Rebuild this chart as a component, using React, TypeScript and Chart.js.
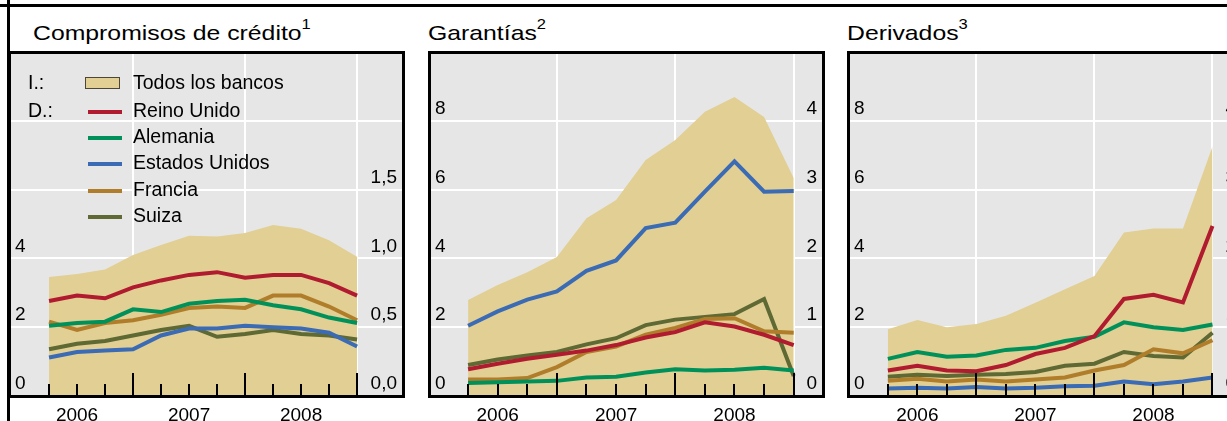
import React, { useEffect, useRef } from 'react';
import { Chart, registerables } from 'chart.js';

Chart.register(...registerables);

const FONT = '"Liberation Sans", Arial, Helvetica, sans-serif';

// ---------- categories & tick labels ----------
const quarters = ['2006T1', '2006T2', '2006T3', '2006T4', '2007T1', '2007T2', '2007T3', '2007T4', '2008T1', '2008T2', '2008T3', '2008T4'];
const yearLabels = ['2006', '2007', '2008'];
const yearLabelAt = [1, 5, 9];
const yearEndAt = [3, 7, 11];

const totalName = 'Todos los bancos';
const seriesNames = ['Reino Unido', 'Alemania', 'Estados Unidos', 'Francia', 'Suiza'];

// ---------- Compromisos de crédito (I.: total, D.: countries) ----------
const creditTotal = [3.46, 3.55, 3.68, 4.1, 4.39, 4.66, 4.64, 4.74, 4.97, 4.86, 4.53, 4.05];
const creditUK = [0.69, 0.73, 0.71, 0.79, 0.84, 0.88, 0.9, 0.86, 0.88, 0.88, 0.82, 0.73];
const creditDE = [0.51, 0.53, 0.54, 0.63, 0.61, 0.67, 0.69, 0.7, 0.66, 0.63, 0.57, 0.53];
const creditUS = [0.28, 0.32, 0.33, 0.34, 0.44, 0.49, 0.49, 0.51, 0.5, 0.49, 0.46, 0.36];
const creditFR = [0.54, 0.48, 0.53, 0.55, 0.59, 0.64, 0.65, 0.64, 0.73, 0.73, 0.65, 0.55];
const creditCH = [0.34, 0.38, 0.4, 0.44, 0.48, 0.51, 0.43, 0.45, 0.48, 0.45, 0.44, 0.41];

// ---------- Garantías ----------
const guarTotal = [2.79, 3.23, 3.6, 4.04, 5.17, 5.7, 6.86, 7.44, 8.26, 8.69, 8.11, 6.34];
const guarUK = [0.39, 0.47, 0.54, 0.6, 0.66, 0.74, 0.85, 0.93, 1.07, 1.01, 0.89, 0.74];
const guarDE = [0.19, 0.2, 0.21, 0.22, 0.27, 0.28, 0.34, 0.39, 0.37, 0.38, 0.41, 0.37];
const guarUS = [1.02, 1.23, 1.4, 1.52, 1.82, 1.97, 2.44, 2.52, 2.97, 3.41, 2.97, 2.98];
const guarFR = [0.24, 0.24, 0.26, 0.42, 0.64, 0.72, 0.89, 0.99, 1.12, 1.13, 0.94, 0.92];
const guarCH = [0.45, 0.53, 0.59, 0.64, 0.75, 0.84, 1.03, 1.11, 1.15, 1.19, 1.41, 0.29];

// ---------- Derivados ----------
const derivTotal = [1.94, 2.21, 2.0, 2.09, 2.33, 2.71, 3.1, 3.49, 4.75, 4.87, 4.87, 7.25];
const derivUK = [0.37, 0.44, 0.37, 0.36, 0.45, 0.61, 0.7, 0.87, 1.41, 1.47, 1.36, 2.47];
const derivDE = [0.54, 0.64, 0.57, 0.59, 0.67, 0.7, 0.8, 0.86, 1.07, 1.0, 0.96, 1.04];
const derivUS = [0.11, 0.12, 0.11, 0.13, 0.11, 0.12, 0.14, 0.15, 0.21, 0.17, 0.21, 0.27];
const derivFR = [0.22, 0.25, 0.21, 0.24, 0.21, 0.24, 0.27, 0.37, 0.45, 0.68, 0.62, 0.81];
const derivCH = [0.28, 0.31, 0.29, 0.31, 0.32, 0.35, 0.44, 0.47, 0.64, 0.58, 0.56, 0.92];

// axis tick labels
const leftTicksCredit = [0, 2, 4];
const rightTicksCredit = [0, 0.5, 1, 1.5];
const leftTicksOther = [0, 2, 4, 6, 8];
const rightTicksOther = [0, 1, 2, 3, 4];

// ---------- styles ----------
const COLORS = ['#B11B2F', '#00915A', '#3A6BB4', '#B07D2B', '#5E6934'];
const AREA = '#E2CF94';
const BG = '#E6E6E6';

const PLOT_W = 394;
const PLOT_H = 344;
const PLOT_TOP = 52;
const PAD = 3;
const XAXIS_H = 32;
const CW = PLOT_W + 2 * PAD;
const CH = PAD + PLOT_H + XAXIS_H;

type PanelCfg = {
  title: string;
  note: string;
  titleLeft: number;
  plotLeft: number;
  xMin: number;
  xMax: number;
  rightMax: number;
  rightStep: number;
  leftShow: number[];
  rightShow: number[];
  rightFmt: (v: number) => string;
  total: number[];
  lines: number[][];
};

const PANELS: PanelCfg[] = [
  {
    title: 'Compromisos de crédito', note: '1', titleLeft: 33, plotLeft: 9,
    xMin: -1.43, xMax: 12.64, rightMax: 2.5, rightStep: 0.5,
    leftShow: leftTicksCredit, rightShow: rightTicksCredit,
    rightFmt: (v) => v.toFixed(1).replace('.', ','),
    total: creditTotal, lines: [creditUK, creditDE, creditUS, creditFR, creditCH],
  },
  {
    title: 'Garantías', note: '2', titleLeft: 428, plotLeft: 429,
    xMin: -1.32, xMax: 11.99, rightMax: 5, rightStep: 1,
    leftShow: leftTicksOther, rightShow: rightTicksOther,
    rightFmt: (v) => String(v),
    total: guarTotal, lines: [guarUK, guarDE, guarUS, guarFR, guarCH],
  },
  {
    title: 'Derivados', note: '3', titleLeft: 847, plotLeft: 848,
    xMin: -1.35, xMax: 12.0, rightMax: 5, rightStep: 1,
    leftShow: leftTicksOther, rightShow: rightTicksOther,
    rightFmt: (v) => String(v),
    total: derivTotal, lines: [derivUK, derivDE, derivUS, derivFR, derivCH],
  },
];

const decoPlugin = {
  id: 'deco',
  beforeDraw(chart: any) {
    const { ctx, chartArea: a } = chart;
    ctx.save();
    ctx.fillStyle = BG;
    ctx.fillRect(a.left, a.top, a.right - a.left, a.bottom - a.top);
    ctx.restore();
  },
  afterDatasetsDraw(chart: any) {
    const { ctx, chartArea: a } = chart;
    const xs = chart.scales.x;
    ctx.save();
    ctx.strokeStyle = '#000';
    ctx.lineWidth = 2;
    quarters.forEach((_, i) => {
      const px = Math.round(xs.getPixelForValue(i));
      const len = yearEndAt.includes(i) ? 23 : 12;
      ctx.beginPath();
      ctx.moveTo(px, a.bottom);
      ctx.lineTo(px, a.bottom - len);
      ctx.stroke();
    });
    ctx.restore();
  },
  afterDraw(chart: any) {
    const { ctx, chartArea: a } = chart;
    ctx.save();
    ctx.strokeStyle = '#000';
    ctx.lineWidth = 3;
    ctx.strokeRect(Math.round(a.left) + 0.5, Math.round(a.top) + 0.5, Math.round(a.right - a.left), Math.round(a.bottom - a.top));
    ctx.restore();
  },
};

const tickFont = { family: FONT, size: 19 };

function Panel({ cfg }: { cfg: PanelCfg }) {
  const ref = useRef<HTMLCanvasElement | null>(null);
  useEffect(() => {
    const pts = (arr: number[]) => arr.map((v, i) => ({ x: i, y: v }));
    const chart = new Chart(ref.current as HTMLCanvasElement, {
      type: 'line',
      data: {
        datasets: [
          ...cfg.lines.map((vals, k) => ({
            label: seriesNames[k],
            data: pts(vals),
            borderColor: COLORS[k],
            backgroundColor: COLORS[k],
            borderWidth: 4,
            pointRadius: 0,
            fill: false,
            tension: 0,
            yAxisID: 'yR',
          })),
          {
            label: totalName,
            data: pts(cfg.total),
            borderColor: 'rgba(0,0,0,0)',
            borderWidth: 0,
            backgroundColor: AREA,
            fill: 'origin',
            pointRadius: 0,
            tension: 0,
            yAxisID: 'yL',
          },
        ],
      } as any,
      options: {
        animation: false,
        responsive: false,
        devicePixelRatio: 1,
        events: [],
        layout: { padding: { left: PAD, right: PAD, top: PAD, bottom: 0 } },
        plugins: { legend: { display: false }, tooltip: { enabled: false } },
        scales: {
          x: {
            type: 'linear',
            position: 'bottom',
            min: cfg.xMin,
            max: cfg.xMax,
            afterBuildTicks: (s: any) => {
              s.ticks = [1, 3, 5, 7, 9, 11].map((v) => ({ value: v }));
            },
            afterFit: (s: any) => {
              s.paddingLeft = 0;
              s.paddingRight = 0;
              s.height = XAXIS_H;
            },
            border: { display: false },
            grid: {
              drawTicks: false,
              lineWidth: 2,
              color: (c: any) => (c.tick && yearEndAt.includes(c.tick.value) ? '#FFFFFF' : 'rgba(0,0,0,0)'),
            },
            ticks: {
              autoSkip: false,
              maxRotation: 0,
              padding: 8,
              color: '#000',
              font: tickFont,
              callback: (v: any) => {
                const k = yearLabelAt.indexOf(Number(v));
                return k >= 0 ? yearLabels[k] : '';
              },
            },
          },
          yL: {
            type: 'linear',
            position: 'left',
            min: 0,
            max: 10,
            afterFit: (s: any) => {
              s.width = 0;
              s.paddingTop = 0;
              s.paddingBottom = 0;
            },
            border: { display: false },
            grid: { drawTicks: false, color: '#FFFFFF', lineWidth: 2 },
            ticks: {
              stepSize: 2,
              mirror: true,
              padding: 6,
              labelOffset: -12,
              color: '#000',
              font: tickFont,
              callback: (v: any) => (cfg.leftShow.includes(Number(v)) ? String(v) : ''),
            },
          },
          yR: {
            type: 'linear',
            position: 'right',
            min: 0,
            max: cfg.rightMax,
            afterFit: (s: any) => {
              s.width = 0;
              s.paddingTop = 0;
              s.paddingBottom = 0;
            },
            border: { display: false },
            grid: { display: false, drawTicks: false },
            ticks: {
              stepSize: cfg.rightStep,
              mirror: true,
              padding: -6,
              labelOffset: -12,
              color: '#000',
              font: tickFont,
              callback: (v: any) => (cfg.rightShow.includes(Number(v)) ? cfg.rightFmt(Number(v)) : ''),
            },
          },
        },
      } as any,
      plugins: [decoPlugin],
    });
    return () => chart.destroy();
  }, []);
  return (
    <canvas
      ref={ref}
      width={CW}
      height={CH}
      style={{ position: 'absolute', left: cfg.plotLeft - PAD, top: PLOT_TOP - PAD, width: CW, height: CH }}
    />
  );
}

function Txt({ x, baseline, size, children, style }: any) {
  return (
    <div
      style={{
        position: 'absolute',
        left: x,
        top: baseline - 0.8465 * size,
        fontSize: size,
        lineHeight: `${size}px`,
        fontFamily: FONT,
        whiteSpace: 'nowrap',
        color: '#000',
        ...style,
      }}
    >
      {children}
    </div>
  );
}

function Legend() {
  const baselines = [89.5, 117.5, 144, 170, 196.5, 222.7];
  const fs = 19.5;
  return (
    <>
      <Txt x={28} baseline={baselines[0]} size={fs}>I.:</Txt>
      <Txt x={28} baseline={baselines[1]} size={fs}>D.:</Txt>
      <div
        style={{
          position: 'absolute', left: 85, top: 77, width: 35, height: 12, boxSizing: 'border-box',
          background: AREA, border: '1px solid #4d4636',
        }}
      />
      <Txt x={133} baseline={baselines[0]} size={fs}>{totalName}</Txt>
      {seriesNames.map((n, k) => (
        <React.Fragment key={n}>
          <div
            style={{
              position: 'absolute', left: 88, top: baselines[k + 1] - 8, width: 34, height: 4, background: COLORS[k],
            }}
          />
          <Txt x={133} baseline={baselines[k + 1]} size={fs}>{n}</Txt>
        </React.Fragment>
      ))}
    </>
  );
}

export default function App() {
  return (
    <div
      style={{
        position: 'absolute', left: 0, top: 0, width: 1227, height: 421, overflow: 'hidden',
        background: '#fff', fontFamily: FONT,
      }}
    >
      {PANELS.map((p) => (
        <Panel key={p.title} cfg={p} />
      ))}
      {PANELS.map((p) => (
        <Txt key={'t' + p.title} x={p.titleLeft} baseline={39.5} size={21} style={{ transform: 'scaleX(1.18)', transformOrigin: 'left' }}>
          {p.title}
          <span style={{ fontSize: 14, position: 'relative', top: -11 }}>{p.note}</span>
        </Txt>
      ))}
      <Legend />
      <div style={{ position: 'absolute', left: 0, top: 4, width: 1227, height: 3, background: '#000' }} />
      <div style={{ position: 'absolute', left: 7, top: 0, width: 3, height: 421, background: '#000' }} />
    </div>
  );
}
